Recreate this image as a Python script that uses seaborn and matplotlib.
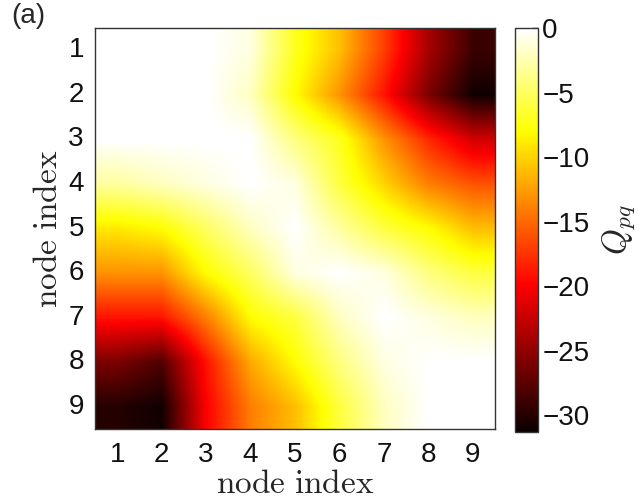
import numpy as np
import pandas as pd
import seaborn as sns
import matplotlib.pyplot as plt

# node labels and Q_pq values (rows p = 1..9, columns q = 1..9)
nodes = [1, 2, 3, 4, 5, 6, 7, 8, 9]
row1 = [0, 0, 0, -1, -7, -11, -17, -24, -29]
row2 = [0, 0, 0, -2, -8, -13, -19, -26, -31]
row3 = [0, 0, 0, 0, -4, -7, -13, -18, -22]
row4 = [-3, -2, -1, 0, -1, -6, -10, -14, -16]
row5 = [-9, -8, -5, -2, 0, -3, -6, -8, -11]
row6 = [-13, -13, -8, -5, -1, 0, -1, -4, -6]
row7 = [-19, -19, -14, -8, -6, -2, 0, -1, -2]
row8 = [-26, -28, -19, -12, -8, -4, -1, 0, 0]
row9 = [-30, -31, -20, -14, -11, -6, -2, 0, 0]
cbar_ticks = [0, -5, -10, -15, -20, -25, -30]

Q = pd.DataFrame([row1, row2, row3, row4, row5, row6, row7, row8, row9],
                 index=nodes, columns=nodes)
vmin, vmax = -31.3, 0

sns.set_style("white")
plt.rcParams['font.family'] = ['Liberation Sans', 'DejaVu Sans']
plt.rcParams['mathtext.fontset'] = 'cm'

fig = plt.figure(figsize=(6.39, 5.03), dpi=100)
ax = fig.add_axes([95/639, 1 - 429/503, 400/639, 401/503])
cax = fig.add_axes([515/639, 1 - 432/503, 23/639, 404/503])

sns.heatmap(Q, cmap="hot", vmin=vmin, vmax=vmax, ax=ax, cbar_ax=cax,
            xticklabels=nodes, yticklabels=nodes)

# smooth (interpolated) rendering like the original figure
ax.imshow(Q.values, cmap="hot", vmin=vmin, vmax=vmax, interpolation="bilinear",
          extent=(0, 9, 9, 0), aspect="auto", zorder=2)
ax.set_xlim(0, 9)
ax.set_ylim(9, 0)

for s in ax.spines.values():
    s.set_visible(True)
    s.set_color("#333333")
    s.set_linewidth(1.0)
    s.set_zorder(5)
ax.tick_params(direction="in", length=4, width=1, top=True, right=True,
               labelsize=20, colors="#111111")
ax.tick_params(axis="x", pad=9)
ax.tick_params(axis="y", pad=8)
ax.set_yticklabels(nodes, rotation=0)
ax.set_xticklabels(nodes, rotation=0)
ax.set_xlabel(r"$\mathrm{node\ index}$", fontsize=24, labelpad=1)
ax.set_ylabel(r"$\mathrm{node\ index}$", fontsize=24, labelpad=3)

cb = ax.collections[0].colorbar
cb.outline.set_visible(True)
cb.outline.set_linewidth(1.0)
cb.outline.set_edgecolor("#333333")
cb.set_ticks(cbar_ticks)
cb.set_ticklabels(["0", "\u22125", "\u221210", "\u221215", "\u221220", "\u221225", "\u221230"])
cax.tick_params(direction="in", length=4, width=1, labelsize=20, pad=3, colors="#111111")
cb.set_label(r"$Q_{pq}$", fontsize=24, labelpad=8)

fig.text(0.018, 0.995, "(a)", fontsize=20, va="top", ha="left")

fig.savefig("out.png", dpi=100)
